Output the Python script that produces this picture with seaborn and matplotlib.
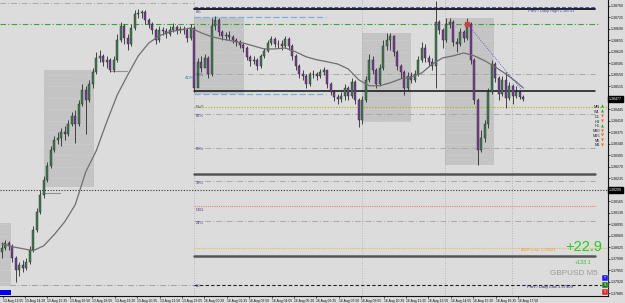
import matplotlib
matplotlib.use("Agg")
import matplotlib.pyplot as plt
from matplotlib.patches import Rectangle
import pandas as pd
import seaborn as sns

# GBPUSD M5 candles, 13 Aug -> 16 Aug
first_open = 1.38012
close = [1.38024, 1.38039, 1.38030, 1.37994, 1.37957, 1.37972, 1.37963, 1.37982, 1.38018, 1.38079,
         1.38134, 1.38185, 1.38231, 1.38273, 1.38322, 1.38352, 1.38358, 1.38377, 1.38371, 1.38401,
         1.38425, 1.38401, 1.38462, 1.38504, 1.38474, 1.38523, 1.38559, 1.38602, 1.38608, 1.38590,
         1.38596, 1.38565, 1.38596, 1.38656, 1.38699, 1.38662, 1.38644, 1.38693, 1.38735, 1.38738,
         1.38742, 1.38717, 1.38705, 1.38687, 1.38656, 1.38687, 1.38684, 1.38675, 1.38687, 1.38696,
         1.38687, 1.38690, 1.38687, 1.38662, 1.38693, 1.38510, 1.38590, 1.38571, 1.38602, 1.38553,
         1.38699, 1.38717, 1.38681, 1.38669, 1.38672, 1.38666, 1.38656, 1.38650, 1.38641, 1.38632,
         1.38605, 1.38593, 1.38596, 1.38577, 1.38608, 1.38623, 1.38647, 1.38659, 1.38644, 1.38644,
         1.38638, 1.38659, 1.38638, 1.38608, 1.38577, 1.38553, 1.38547, 1.38523, 1.38553, 1.38553,
         1.38547, 1.38559, 1.38565, 1.38523, 1.38498, 1.38483, 1.38477, 1.38486, 1.38510, 1.38486,
         1.38529, 1.38474, 1.38413, 1.38474, 1.38535, 1.38596, 1.38565, 1.38523, 1.38571, 1.38638,
         1.38656, 1.38669, 1.38620, 1.38577, 1.38559, 1.38510, 1.38547, 1.38535, 1.38553, 1.38596,
         1.38632, 1.38602, 1.38590, 1.38577, 1.38711, 1.38687, 1.38656, 1.38705, 1.38711, 1.38650,
         1.38644, 1.38681, 1.38662, 1.38705, 1.38596, 1.38474, 1.38322, 1.38358, 1.38401, 1.38498,
         1.38583, 1.38541, 1.38492, 1.38535, 1.38480, 1.38517, 1.38486, 1.38498, 1.38483, 1.38477]
high = [1.38042, 1.38048, 1.38045, 1.38036, 1.38000, 1.37982, 1.37988, 1.37994, 1.38030, 1.38091,
        1.38146, 1.38200, 1.38243, 1.38286, 1.38334, 1.38365, 1.38377, 1.38389, 1.38395, 1.38413,
        1.38438, 1.38444, 1.38474, 1.38523, 1.38517, 1.38535, 1.38571, 1.38620, 1.38626, 1.38614,
        1.38608, 1.38602, 1.38608, 1.38675, 1.38711, 1.38705, 1.38675, 1.38705, 1.38748, 1.38751,
        1.38748, 1.38748, 1.38723, 1.38711, 1.38693, 1.38699, 1.38696, 1.38693, 1.38699, 1.38708,
        1.38702, 1.38699, 1.38699, 1.38693, 1.38705, 1.38699, 1.38602, 1.38608, 1.38614, 1.38608,
        1.38723, 1.38729, 1.38723, 1.38687, 1.38681, 1.38684, 1.38672, 1.38662, 1.38656, 1.38647,
        1.38638, 1.38611, 1.38608, 1.38602, 1.38614, 1.38632, 1.38656, 1.38669, 1.38666, 1.38656,
        1.38656, 1.38669, 1.38666, 1.38644, 1.38614, 1.38583, 1.38565, 1.38553, 1.38559, 1.38565,
        1.38559, 1.38568, 1.38574, 1.38565, 1.38529, 1.38504, 1.38492, 1.38498, 1.38523, 1.38517,
        1.38541, 1.38535, 1.38480, 1.38486, 1.38547, 1.38614, 1.38608, 1.38571, 1.38583, 1.38656,
        1.38678, 1.38678, 1.38672, 1.38626, 1.38583, 1.38565, 1.38559, 1.38559, 1.38565, 1.38608,
        1.38650, 1.38644, 1.38611, 1.38602, 1.38775, 1.38717, 1.38693, 1.38723, 1.38723, 1.38717,
        1.38662, 1.38693, 1.38687, 1.38723, 1.38711, 1.38602, 1.38480, 1.38383, 1.38413, 1.38510,
        1.38596, 1.38590, 1.38547, 1.38547, 1.38559, 1.38529, 1.38523, 1.38517, 1.38504, 1.38489]
low = [1.37994, 1.38018, 1.38018, 1.37982, 1.37921, 1.37939, 1.37951, 1.37957, 1.37975, 1.38012,
       1.38073, 1.38127, 1.38176, 1.38225, 1.38267, 1.38316, 1.38340, 1.38334, 1.38352, 1.38365,
       1.38395, 1.38343, 1.38395, 1.38456, 1.38371, 1.38468, 1.38510, 1.38553, 1.38590, 1.38577,
       1.38571, 1.38559, 1.38559, 1.38590, 1.38650, 1.38644, 1.38626, 1.38638, 1.38687, 1.38723,
       1.38723, 1.38705, 1.38693, 1.38675, 1.38644, 1.38650, 1.38672, 1.38662, 1.38669, 1.38681,
       1.38675, 1.38678, 1.38675, 1.38650, 1.38656, 1.38498, 1.38547, 1.38559, 1.38577, 1.38541,
       1.38547, 1.38687, 1.38669, 1.38656, 1.38656, 1.38656, 1.38647, 1.38638, 1.38632, 1.38620,
       1.38596, 1.38577, 1.38583, 1.38565, 1.38571, 1.38602, 1.38620, 1.38641, 1.38635, 1.38632,
       1.38626, 1.38632, 1.38626, 1.38596, 1.38565, 1.38541, 1.38535, 1.38510, 1.38517, 1.38541,
       1.38535, 1.38541, 1.38550, 1.38510, 1.38489, 1.38471, 1.38462, 1.38468, 1.38474, 1.38474,
       1.38480, 1.38462, 1.38392, 1.38401, 1.38468, 1.38529, 1.38553, 1.38510, 1.38517, 1.38565,
       1.38626, 1.38626, 1.38608, 1.38565, 1.38541, 1.38489, 1.38504, 1.38526, 1.38529, 1.38547,
       1.38590, 1.38590, 1.38577, 1.38565, 1.38510, 1.38675, 1.38632, 1.38650, 1.38693, 1.38638,
       1.38620, 1.38638, 1.38650, 1.38656, 1.38583, 1.38462, 1.38276, 1.38316, 1.38346, 1.38389,
       1.38492, 1.38529, 1.38474, 1.38486, 1.38450, 1.38474, 1.38462, 1.38480, 1.38477, 1.38471]

# moving average (sampled along the bars)
ma_idx = [0, 3, 6, 9, 12, 15, 18, 21, 24, 27, 30, 33, 36, 39, 42, 45, 48, 51, 54, 57,
          60, 63, 66, 69, 72, 75, 78, 81, 84, 87, 90, 93, 96, 99, 102, 105, 108, 111, 114, 117,
          120, 123, 126, 129, 132, 135, 138, 141, 144, 147, 149]
ma_val = [1.38036, 1.38027, 1.38021, 1.38015, 1.38030, 1.38064, 1.38103, 1.38155, 1.38255, 1.38319,
          1.38407, 1.38489, 1.38550, 1.38608, 1.38647, 1.38669, 1.38681, 1.38687, 1.38693, 1.38678,
          1.38666, 1.38659, 1.38653, 1.38647, 1.38638, 1.38629, 1.38629, 1.38632, 1.38620, 1.38605,
          1.38596, 1.38590, 1.38583, 1.38568, 1.38535, 1.38517, 1.38517, 1.38526, 1.38538, 1.38544,
          1.38556, 1.38583, 1.38602, 1.38608, 1.38617, 1.38608, 1.38593, 1.38574, 1.38553, 1.38529,
          1.38510]

# session boxes: start bar, end bar, high, low
box_start = [-0.5, 12.1, 54.9, 102.9, 126.6]
box_end = [2.6, 26.4, 69.2, 116.9, 140.6]
box_high = [1.38100, 1.38565, 1.38726, 1.38678, 1.38723]
box_low = [1.37906, 1.38210, 1.38492, 1.38407, 1.38276]

price_ticks = [1.38760, 1.38725, 1.38690, 1.38655, 1.38620, 1.38585, 1.38550, 1.38515,
               1.38445, 1.38410, 1.38375, 1.38340, 1.38305, 1.38270, 1.38235,
               1.38165, 1.38130, 1.38095, 1.38060, 1.38025, 1.37990, 1.37955, 1.37920, 1.37885]
time_labels = ["13 Aug 13:05", "13 Aug 14:20", "13 Aug 15:35", "13 Aug 16:50", "13 Aug 18:05",
               "13 Aug 19:20", "13 Aug 20:35", "13 Aug 21:50", "13 Aug 23:05", "16 Aug 00:20",
               "16 Aug 01:35", "16 Aug 02:50", "16 Aug 04:05", "16 Aug 05:20", "16 Aug 06:35",
               "16 Aug 07:50", "16 Aug 09:05", "16 Aug 10:20", "16 Aug 11:35", "16 Aug 12:50",
               "16 Aug 14:05", "16 Aug 15:20", "16 Aug 16:35", "16 Aug 17:50"]

prev_high = 1.38751
prev_low = 1.37909
adr_low = 1.38022
pivot = 1.38453
round_level = 1.38200
fib_levels = [1.38553, 1.38430, 1.38328, 1.38226, 1.38104]
fib_names = ["76%", "62%", "50%", "38%", "24%"]
tf_names = ["MN", "W1", "D1", "H4", "H1", "M30", "M15", "M5", "M1"]
tf_up = [True, True, False, False, True, False, False, False, False]

BG = "#dcdcdc"
sns.set_theme(style="ticks")
plt.rcParams["font.family"] = ["Liberation Sans", "DejaVu Sans"]

df = pd.DataFrame({"high": high, "low": low, "close": close})
df["open"] = [first_open] + close[:-1]
df["idx"] = range(len(df))
up = df["close"] >= df["open"]

fig = plt.figure(figsize=(6.25, 3.03), dpi=100, facecolor=BG)
ax = fig.add_axes([0, 7 / 303, 608 / 625, 296 / 303])
ax.set_facecolor(BG)
ax.set_xlim(-0.5, 173.2)
ax.set_ylim(1.37877, 1.38778)

W = 608.0  # plot width in px, used for line extents


def hline(y, x0, x1, **kw):
    ax.axhline(y, xmin=x0 / W, xmax=x1 / W, **kw)


# session boxes
for s, e, h, l in zip(box_start, box_end, box_high, box_low):
    ax.add_patch(Rectangle((s, l), e - s, h - l, facecolor="#c4c4c4", edgecolor="none", zorder=0.5))

# faint grid (shows on the boxes)
for p in price_ticks + [1.38480, 1.38200]:
    ax.axhline(p, color="#dadada", lw=0.5, ls=(0, (1, 2)), zorder=0.6)

for xv in [194, 362, 445, 512]:
    ax.axvline((xv - 1.75) / 3.5, color="#a8a8a8", lw=0.6, ls=(0, (1, 2)), zorder=0.7)

# level lines
hline(1.38770, 0, 194, color="#a8a8a8", lw=0.7, ls=(0, (6, 2, 1, 2)))
hline(1.38757, 194, 595, color="#5050b0", lw=0.7, ls=(0, (4, 2)))
hline(prev_high, 194, 595, color="#111111", lw=1.3)
hline(1.38726, 194, 326, color="#7aaee0", lw=0.9, ls=(0, (5, 2)))
hline(1.38492, 194, 326, color="#7aaee0", lw=0.9, ls=(0, (5, 2)))
hline(1.38705, 0, 600, color="#3aa53a", lw=0.8, ls=(0, (5, 2, 1, 2)))
hline(1.38501, 194, 595, color="#111111", lw=1.1)
hline(pivot, 194, 608, color="#b0b000", lw=0.8, ls=(0, (1, 1.5)))
for lv in fib_levels:
    hline(lv, 194, 595, color="#a8a8a8", lw=0.7, ls=(0, (6, 2, 1, 2)))
hline(1.38249, 194, 595, color="#555555", lw=1.8)
hline(1.38000, 194, 595, color="#555555", lw=1.8)
hline(round_level, 0, 608, color="#333333", lw=0.8, ls=(0, (1, 1.5)))
hline(1.38150, 194, 595, color="#f07e6e", lw=0.8, ls=(0, (1, 1)))
hline(adr_low, 194, 608, color="#f5b54a", lw=0.8, ls=(0, (1, 1)))
hline(prev_low, 10, 194, color="#a0a0a0", lw=0.7, ls=(0, (6, 2, 1, 2)))
hline(prev_low, 194, 608, color="#222222", lw=0.8, ls=(0, (3, 2)))

# short helper lines on the left
ax.plot([30.9, 35.8], [1.38562, 1.38562], color="#909090", lw=0.8)
ax.plot([11.5, 16.6], [1.38191, 1.38191], color="#909090", lw=0.8)

# candles
ax.vlines(df["idx"], df["low"], df["high"], color="#2a2a2a", lw=0.6, zorder=2)
ax.bar(df["idx"], df["close"] - df["open"], bottom=df["open"], width=0.62,
       color=["#3d7d52" if u else "#7a3a9a" for u in up],
       edgecolor="#2a2a2a", linewidth=0.3, zorder=3)

# moving average + trend line
sns.lineplot(x=ma_idx, y=ma_val, ax=ax, color="#6e6e6e", lw=0.9, zorder=4)
ax.plot([133, 149], [1.38705, 1.38498], color="#4a4ad0", lw=0.6, ls=(0, (1, 1.5)), zorder=4)
ax.plot([133], [1.38705], marker="s", ms=2.2, color="#d04040", zorder=5)

# labels on the chart
tr = ax.get_yaxis_transform()
lab = dict(transform=tr, fontsize=3.0, color="#3c3c78", va="center", ha="left")
ax.text(196 / W, 1.38742, "0%", **lab)
ax.text(196 / W, pivot - 0.00002, "PivT", **lab)
for lv, nm in zip(fib_levels, fib_names):
    ax.text(196 / W, lv - 0.00004, nm, **lab)
ax.text(196 / W, 1.38140, "DB1", **lab)
ax.text(196 / W, prev_low - 0.00003, "L0", **lab)
ax.text(185 / W, 1.38540, "ADR", transform=tr, fontsize=3.0, color="#4a9a9a", va="center")
ax.text(528 / W, prev_high - 0.00006, "Prev / Daily High 1.38751", transform=tr,
        fontsize=3.0, color="#4040a0", va="center")
ax.text(521 / W, adr_low - 0.00004, "ADR Low: 1.38022", transform=tr,
        fontsize=3.0, color="#e8a030", va="center")
ax.text(527 / W, prev_low - 0.00005, "Prev / Daily Low 1.37909", transform=tr,
        fontsize=3.0, color="#202060", va="center")

ax.text(602 / W, 1.38025, "+22.9", transform=tr, fontsize=10.5, color="#22cc22",
        ha="right", va="center")
ax.text(591 / W, 1.37978, "+133.1", transform=tr, fontsize=3.8, color="#33bb33",
        ha="right", va="center")
ax.text(598 / W, 1.37945, "GBPUSD M5", transform=tr, fontsize=5.9, color="#9a9a9a",
        ha="right", va="center")

# timeframe trend list
tf_prices = [1.38453, 1.38438, 1.38423, 1.38408, 1.38393, 1.38379, 1.38365, 1.38350, 1.38336]
for nm, u, p in zip(tf_names, tf_up, tf_prices):
    ax.text(600 / W, p, nm, transform=tr, fontsize=2.8, color="#222222", ha="right", va="center")
    ax.text(601 / W, p, "▲" if u else "▼", transform=tr, fontsize=2.8,
            color="#22aa22" if u else "#ff6a1a", ha="left", va="center",
            family="DejaVu Sans")

# little buttons
for k, (fc, t) in enumerate([("#1a1aee", "T"), ("#1a7a1a", "S"), ("#dd2222", "X")]):
    y0 = 1.37940 - k * 0.00021
    ax.add_patch(Rectangle((602 / W, y0 - 0.00017), 6 / W, 0.00017, transform=tr,
                           facecolor=fc, edgecolor="#eeeeee", lw=0.3, zorder=6, clip_on=False))
    ax.text(605 / W, y0 - 0.000085, t, transform=tr, fontsize=2.6, color="white",
            ha="center", va="center", zorder=7)
ax.add_patch(Rectangle((0, 1.37880), 11 / W, 0.00016, transform=tr,
                       facecolor="#0000ee", edgecolor="none", zorder=6))

# axes styling
for s in ["left", "top"]:
    ax.spines[s].set_visible(False)
for s in ["right", "bottom"]:
    ax.spines[s].set_color("#111111")
    ax.spines[s].set_linewidth(0.8)
ax.yaxis.tick_right()
ax.set_yticks(price_ticks)
ax.set_yticklabels([f"{p:.5f}" for p in price_ticks], fontsize=2.6)
ax.tick_params(axis="y", length=1.5, width=0.5, pad=0.6, colors="#111111")
ax.set_xticks([0.27 + 6.4 * k for k in range(len(time_labels))])
ax.set_xticklabels(time_labels, fontsize=2.4, ha="left")
ax.tick_params(axis="x", length=1.5, width=0.5, pad=0.6, colors="#111111")
ax.set_xlabel("")
ax.set_ylabel("")

# price tags on the scale
for p, t in [(close[-1], f"{close[-1]:.5f}"), (round_level, "1.38200")]:
    ax.text(1.0015, p, t, transform=tr, fontsize=2.6, color="white", ha="left", va="center",
            bbox=dict(facecolor="black", edgecolor="black", pad=0.5), clip_on=False)

fig.savefig("out.png", dpi=100, facecolor=BG)
